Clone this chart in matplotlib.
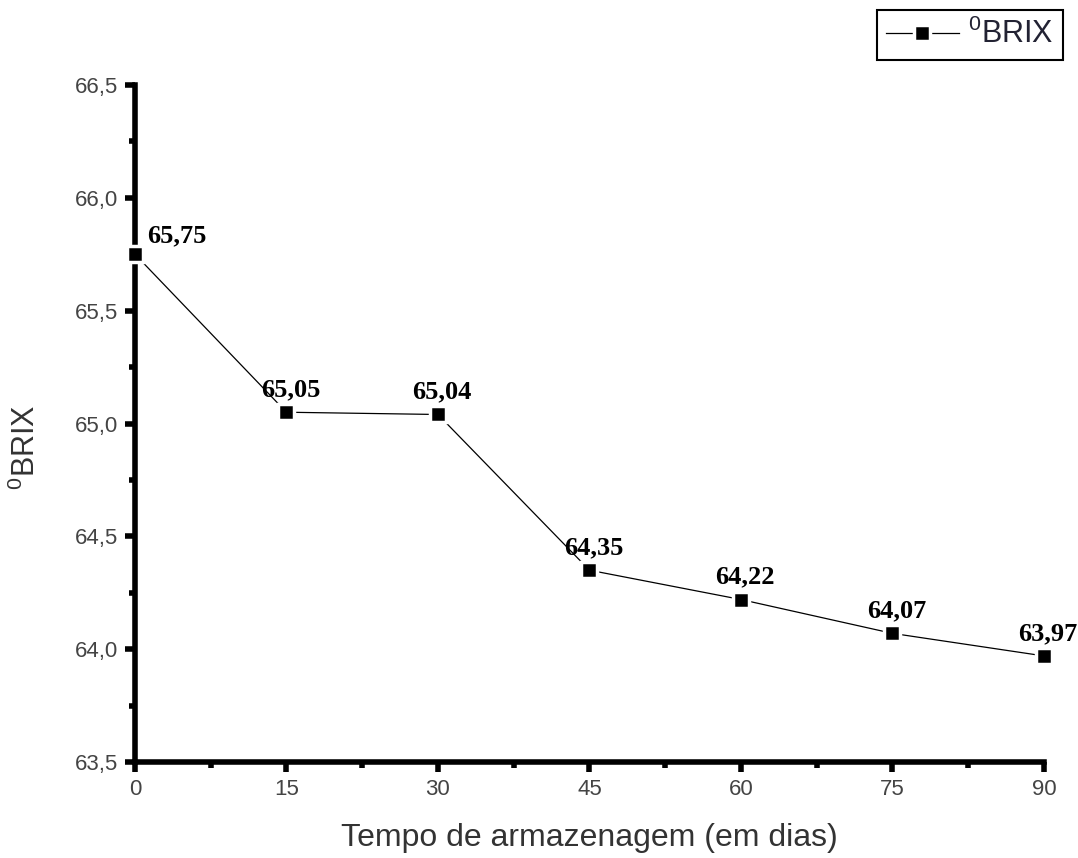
import numpy as np
import matplotlib.pyplot as plt
from matplotlib.ticker import MultipleLocator, FuncFormatter

dias = [0, 15, 30, 45, 60, 75, 90]
brix = [65.75, 65.05, 65.04, 64.35, 64.22, 64.07, 63.97]
rotulos = ['65,75', '65,05', '65,04', '64,35', '64,22', '64,07', '63,97']

plt.rcParams['font.family'] = ['Liberation Sans', 'DejaVu Sans']
plt.rcParams['mathtext.fontset'] = 'custom'
plt.rcParams['mathtext.rm'] = 'Liberation Sans'

fig = plt.figure(figsize=(10.78, 8.58), dpi=100)
ax = fig.add_axes([0.1252, 0.1119, 0.8432, 0.789])

ax.plot(dias, brix, color='black', lw=0.9, marker='s', ms=11.5,
        markerfacecolor='black', markeredgecolor='white', mew=2.5,
        label='$^{0}$BRIX', clip_on=False, zorder=3)

for i, (x, y, t) in enumerate(zip(dias, brix, rotulos)):
    if i == 0:
        ax.annotate(t, (x, y), xytext=(9, 5), textcoords='offset points',
                    ha='left', va='bottom', fontsize=19, fontweight='bold',
                    family='Liberation Serif')
    else:
        ax.annotate(t, (x, y), xytext=(3, 8), textcoords='offset points',
                    ha='center', va='bottom', fontsize=19, fontweight='bold',
                    family='Liberation Serif')

ax.set_xlim(0, 90)
ax.set_ylim(63.5, 66.5)
ax.xaxis.set_major_locator(MultipleLocator(15))
ax.xaxis.set_minor_locator(MultipleLocator(7.5))
ax.yaxis.set_major_locator(MultipleLocator(0.5))
ax.yaxis.set_minor_locator(MultipleLocator(0.25))
ax.yaxis.set_major_formatter(FuncFormatter(lambda v, p: ('%.1f' % v).replace('.', ',')))

for s in ['top', 'right']:
    ax.spines[s].set_visible(False)
for s in ['left', 'bottom']:
    ax.spines[s].set_linewidth(4)
ax.tick_params(which='major', direction='out', length=7, width=4,
               labelsize=16, labelcolor='#444444', pad=5)
ax.tick_params(which='minor', direction='out', length=4, width=4)

ax.set_xlabel('Tempo de armazenagem (em dias)', fontsize=23, color='#333333', labelpad=17)
ax.set_ylabel('$^{0}$BRIX', fontsize=22, color='#333333')
ax.yaxis.set_label_coords(-0.102, 0.465)

leg = ax.legend(loc='upper right', bbox_to_anchor=(1.021, 1.111), fontsize=22,
                fancybox=False, edgecolor='black', framealpha=1,
                handlelength=2.4, handletextpad=0.3, borderpad=0.3,
                borderaxespad=0, markerscale=1.0)
leg.get_frame().set_linewidth(1.5)
for t in leg.get_texts():
    t.set_color('#222233')

fig.savefig('out.png', dpi=100)
